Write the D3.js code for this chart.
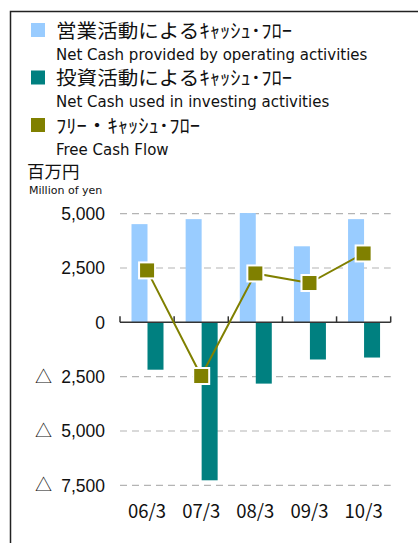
<!DOCTYPE html>
<html>
<head>
<meta charset="utf-8">
<script src="https://cdn.jsdelivr.net/npm/d3@7"></script>
<style>
body { margin: 0; background: #fff; }
svg { display: block; }
</style>
</head>
<body>
<svg id="chart" width="418" height="543"></svg>
<script>
// 決算期
var periods = ["06/3", "07/3", "08/3", "09/3", "10/3"];
// 営業活動によるキャッシュ・フロー (百万円)
var operating = [4520, 4750, 5030, 3500, 4750];
// 投資活動によるキャッシュ・フロー (百万円)
var investing = [-2180, -7270, -2820, -1710, -1620];
// フリー・キャッシュ・フロー (百万円)
var freeCash = [2390, -2470, 2250, 1810, 3170];
var yTicks = [5000, 2500, 0, -2500, -5000, -7500];

var legendItems = [
  { jp: "営業活動によるｷｬｯｼｭ･ﾌﾛｰ", en: "Net Cash provided by operating activities", color: "#99ccff", len: 236 },
  { jp: "投資活動によるｷｬｯｼｭ･ﾌﾛｰ", en: "Net Cash used in investing activities", color: "#008080", len: 236 },
  { jp: "ﾌﾘｰ・ｷｬｯｼｭ･ﾌﾛｰ", en: "Free Cash Flow", color: "#808000", len: 144 }
];

var svg = d3.select("#chart");
var jpFont = "'Noto Sans CJK JP', sans-serif";
var enFont = "'DejaVu Sans', sans-serif";
var numFont = "'Liberation Sans', Arial, sans-serif";

// 枠 (左と上)
svg.append("path")
  .attr("d", "M10.5,543 V11.5 H418")
  .attr("fill", "none")
  .attr("stroke", "#222")
  .attr("stroke-width", 1.5);

// 凡例
var leg = svg.append("g");
legendItems.forEach(function (d, i) {
  var y0 = 23 + i * 47.5;
  leg.append("rect")
    .attr("x", 31).attr("y", y0)
    .attr("width", 14).attr("height", 14)
    .attr("fill", d.color);
  leg.append("text")
    .attr("x", 56).attr("y", y0 + 14.5)
    .attr("font-family", jpFont)
    .attr("font-size", 19.5)
    .attr("textLength", d.len)
    .attr("lengthAdjust", "spacingAndGlyphs")
    .attr("fill", "#111")
    .text(d.jp);
  leg.append("text")
    .attr("x", 56).attr("y", y0 + 36.5)
    .attr("font-family", enFont)
    .attr("font-size", 15)
    .attr("fill", "#111")
    .text(d.en);
});

svg.append("text")
  .attr("x", 27).attr("y", 178)
  .attr("font-family", jpFont)
  .attr("font-size", 17.5)
  .attr("fill", "#111")
  .text("百万円");
svg.append("text")
  .attr("x", 29).attr("y", 193.5)
  .attr("font-family", enFont)
  .attr("font-size", 11)
  .attr("fill", "#111")
  .text("Million of yen");

// スケール
var x = d3.scaleBand().domain(periods).range([120, 390.7]).padding(0);
var xs = d3.scaleBand().domain(["op", "inv"]).range([11.5, 43.5]);
var y = d3.scaleLinear().domain([-7500, 5000]).range([485.3, 213.7]);

// グリッド線
svg.append("g")
  .selectAll("line")
  .data(yTicks.filter(function (t) { return t !== 0; }))
  .enter()
  .append("line")
  .attr("x1", 120).attr("x2", 390.7)
  .attr("y1", function (d) { return y(d); })
  .attr("y2", function (d) { return y(d); })
  .attr("stroke", "#b4b4b4")
  .attr("stroke-width", 1.2)
  .attr("stroke-dasharray", "7,5");

// Y軸ラベル
var yl = svg.append("g");
yl.selectAll("text.num")
  .data(yTicks)
  .enter()
  .append("text")
  .attr("class", "num")
  .attr("x", 105)
  .attr("y", function (d) { return y(d); })
  .attr("dy", "0.36em")
  .attr("text-anchor", "end")
  .attr("font-family", numFont)
  .attr("font-size", 17.5)
  .attr("fill", "#111")
  .text(function (d) { return d3.format(",")(Math.abs(d)); });
yl.selectAll("text.neg")
  .data(yTicks.filter(function (t) { return t < 0; }))
  .enter()
  .append("text")
  .attr("class", "neg")
  .attr("x", 35)
  .attr("y", function (d) { return y(d); })
  .attr("dy", "0.36em")
  .attr("font-family", jpFont)
  .attr("font-size", 17)
  .attr("fill", "#111")
  .text("△");

// 棒
var bars = svg.append("g");
bars.selectAll("rect.op")
  .data(operating)
  .enter()
  .append("rect")
  .attr("class", "op")
  .attr("x", function (d, i) { return x(periods[i]) + xs("op"); })
  .attr("width", xs.bandwidth())
  .attr("y", function (d) { return y(d); })
  .attr("height", function (d) { return y(0) - y(d); })
  .attr("fill", "#99ccff");
bars.selectAll("rect.inv")
  .data(investing)
  .enter()
  .append("rect")
  .attr("class", "inv")
  .attr("x", function (d, i) { return x(periods[i]) + xs("inv"); })
  .attr("width", xs.bandwidth())
  .attr("y", y(0))
  .attr("height", function (d) { return y(d) - y(0); })
  .attr("fill", "#008080");

// ゼロ軸
var axisG = svg.append("g")
  .attr("transform", "translate(0," + y(0) + ")");
axisG.append("line")
  .attr("x1", 120).attr("x2", 390.7)
  .attr("stroke", "#333").attr("stroke-width", 1.5);
axisG.selectAll("line.tk")
  .data(d3.range(periods.length + 1))
  .enter()
  .append("line")
  .attr("class", "tk")
  .attr("x1", function (i) { return 120 + i * x.step(); })
  .attr("x2", function (i) { return 120 + i * x.step(); })
  .attr("y1", 0).attr("y2", -6)
  .attr("stroke", "#333").attr("stroke-width", 1.5);

// X軸ラベル
svg.append("g")
  .selectAll("text")
  .data(periods)
  .enter()
  .append("text")
  .attr("x", function (d) { return x(d) + x.bandwidth() / 2; })
  .attr("y", 518)
  .attr("text-anchor", "middle")
  .attr("font-family", jpFont)
  .attr("font-size", 18.5)
  .attr("fill", "#111")
  .text(function (d) { return d; });

// フリー・キャッシュ・フロー
var line = d3.line()
  .x(function (d, i) { return x(periods[i]) + x.bandwidth() / 2; })
  .y(function (d) { return y(d); });
svg.append("path")
  .datum(freeCash)
  .attr("d", line)
  .attr("fill", "none")
  .attr("stroke", "#808000")
  .attr("stroke-width", 2);
svg.append("g")
  .selectAll("rect")
  .data(freeCash)
  .enter()
  .append("rect")
  .attr("x", function (d, i) { return x(periods[i]) + x.bandwidth() / 2 - 8; })
  .attr("y", function (d) { return y(d) - 8; })
  .attr("width", 16).attr("height", 16)
  .attr("fill", "#808000")
  .attr("stroke", "#fff")
  .attr("stroke-width", 2);
</script>
</body>
</html>
